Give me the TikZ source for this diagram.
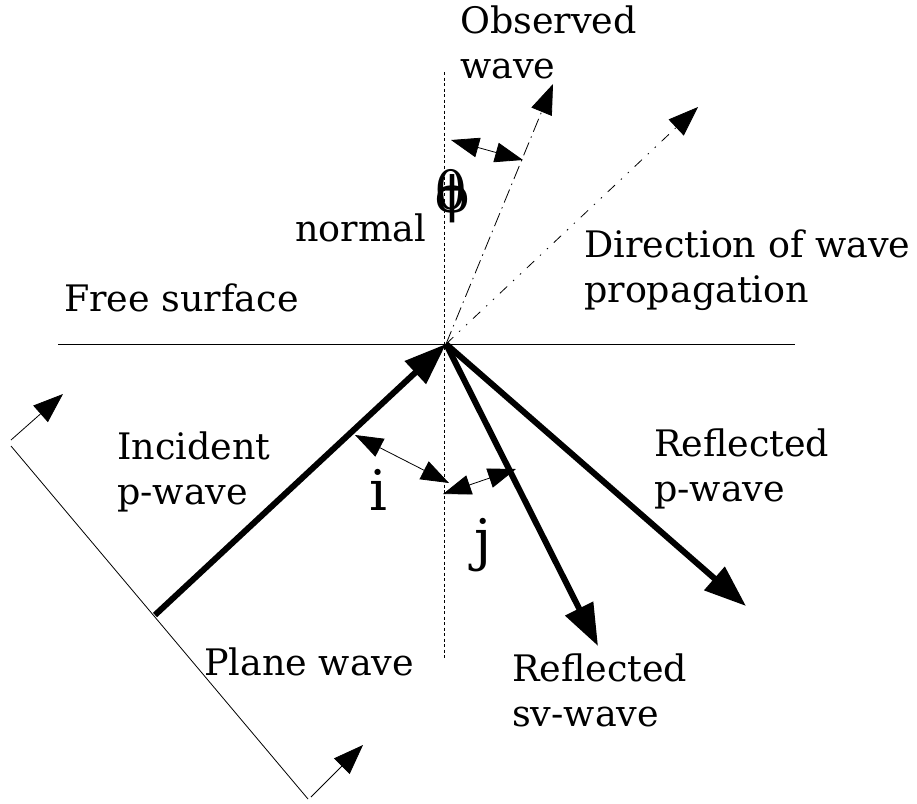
\documentclass[tikz,border=0pt]{standalone}
\usepackage{fontspec}
\setmainfont{DejaVu Serif}
\usetikzlibrary{arrows.meta}
\begin{document}
\begin{tikzpicture}[x=1pt,y=-1pt,
  lbl/.style={font=\fontsize{36.5}{45}\selectfont, align=left, anchor=west, inner sep=0pt},
  big/.style={font=\fontsize{56}{60}\selectfont, inner sep=0pt},
  wave/.style={line width=6pt, -{Triangle[length=42pt,width=30pt]}},
  thin/.style={line width=0.8pt},
  thinarrow/.style={line width=0.8pt, -{Triangle[length=30pt,width=22pt]}},
  angarrow/.style={line width=0.8pt, {Triangle[length=28pt,width=20pt]}-{Triangle[length=28pt,width=20pt]}}
]
\useasboundingbox (0,0) rectangle (917,803);
\coordinate (O) at (446,344);
\coordinate (sl) at (58,344);
\coordinate (sr) at (795,344);
\coordinate (nt) at (444,72);
\coordinate (nb) at (444,660);
\coordinate (inc) at (155,615);
\coordinate (sv) at (598,646);
\coordinate (pw) at (746,606);
\coordinate (obs) at (553,84);
\coordinate (dir) at (698,107);
\coordinate (pl1) at (11,446);
\coordinate (pl2) at (308,799);
\coordinate (pa1) at (11,440);
\coordinate (pa1t) at (63,394);
\coordinate (pa2) at (311,797);
\coordinate (pa2t) at (363,745);
\coordinate (th1) at (451,140);
\coordinate (th2) at (523,160);
\coordinate (i1) at (355,435);
\coordinate (i2) at (449,483);
\coordinate (j1) at (443,494);
\coordinate (j2) at (516,469);

\draw[thin, line width=0.6pt] (sl) -- (sr);
\draw[line width=0.8pt, dash pattern=on 3pt off 2.5pt] (nt) -- (nb);
\draw[thinarrow, dash pattern=on 14pt off 5pt on 1.5pt off 5pt] (O) -- (obs);
\draw[thinarrow, dash pattern=on 10pt off 8pt on 1.5pt off 8pt on 1.5pt off 8pt] (O) -- (dir);
\draw[wave] (inc) -- (O);
\draw[wave] (O) -- (sv);
\draw[wave] (O) -- (pw);
\draw[thin] (pl1) -- (pl2);
\draw[thinarrow] (pa1) -- (pa1t);
\draw[thinarrow] (pa2) -- (pa2t);
\draw[angarrow] (th1) -- (th2);
\draw[angarrow] (i1) -- (i2);
\draw[angarrow] (j1) -- (j2);

\node[lbl] (tobs) at (460,42) {Observed\\wave};
\node[lbl] (tnorm) at (295,228) {normal};
\node[inner sep=0pt, font=\fontsize{52}{56}\selectfont] (tth) at (451,190) {θ};
\node[inner sep=0pt, font=\fontsize{50}{56}\selectfont] (tph) at (453,199) {ϕ};
\node[lbl] (tdir) at (584,270) {Direction of wave\\propagation};
\node[lbl] (tfree) at (64,298) {Free surface};
\node[lbl] (tinc) at (117,472) {Incident\\p-wave};
\node[big] (ti) at (378,490) {i};
\node[big] (tj) at (483,545) {j};
\node[lbl] (trp) at (654,469) {Reflected\\p-wave};
\node[lbl] (tpl) at (204,662) {Plane wave};
\node[lbl] (trs) at (512,690) {Reflected\\sv-wave};
\end{tikzpicture}
\end{document}
